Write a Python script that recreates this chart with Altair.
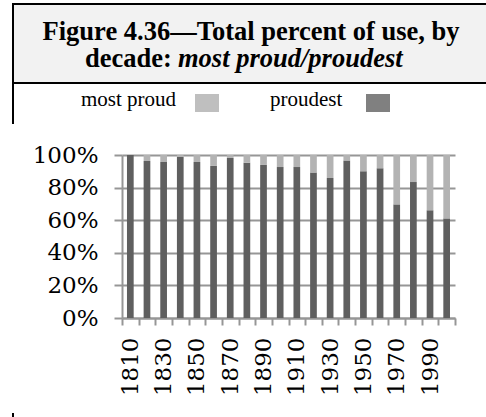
import altair as alt
import pandas as pd

# Decades and share of "proudest" (percent); "most proud" is the remainder
decades = [1810, 1820, 1830, 1840, 1850, 1860, 1870, 1880, 1890, 1900,
           1910, 1920, 1930, 1940, 1950, 1960, 1970, 1980, 1990, 2000]
proudest = [100.0, 96.3, 95.7, 98.8, 95.7, 93.3, 98.2, 95.3, 93.9, 92.6,
            92.6, 89.2, 85.9, 96.7, 90.0, 91.8, 69.7, 83.4, 66.1, 61.1]
most_proud = [round(100 - p, 1) for p in proudest]

series = ["most proud", "proudest"]
bar_colors = ["#b3b3b3", "#5f5f5f"]
swatch_colors = ["#bfbfbf", "#808080"]

title_line1 = "Figure 4.36\u2014Total percent of use, by"
title_line2a = "decade:"
title_line2b = "most proud/proudest"

GRID = "#969696"
SERIF = "Liberation Serif"
AXIS_FONT = "DejaVu Serif"

rows = []
for d, p, m in zip(decades, proudest, most_proud):
    rows.append({"decade": d, "form": "proudest", "pct": p, "stack_order": 0})
    rows.append({"decade": d, "form": "most proud", "pct": m, "stack_order": 1})
df = pd.DataFrame(rows)

one = pd.DataFrame({"k": [0]})

bars = alt.Chart(df).mark_bar(size=6.7).encode(
    x=alt.X(
        "decade:O",
        scale=alt.Scale(paddingInner=0, paddingOuter=0),
        axis=alt.Axis(
            title=None,
            labelAngle=270,
            labelExpr="(+datum.value) % 20 == 10 ? datum.label : ''",
            labelOverlap=False,
            labelFont=AXIS_FONT,
            labelFontSize=23,
            labelColor="#000000",
            labelPadding=12,
            tickBand="extent",
            tickSize=7,
            tickWidth=2,
            tickColor=GRID,
            domainColor=GRID,
            domainWidth=2,
            grid=False,
        ),
    ),
    y=alt.Y(
        "pct:Q",
        stack="normalize",
        scale=alt.Scale(domain=[0, 1]),
        axis=alt.Axis(
            title=None,
            values=[0, 0.2, 0.4, 0.6, 0.8, 1.0],
            format=".0%",
            labelFont=AXIS_FONT,
            labelFontSize=23,
            labelColor="#000000",
            labelPadding=16,
            tickSize=8,
            tickWidth=2,
            tickColor=GRID,
            domainColor=GRID,
            domainWidth=2,
            grid=True,
            gridColor=GRID,
            gridWidth=2,
        ),
    ),
    color=alt.Color(
        "form:N",
        scale=alt.Scale(domain=series, range=bar_colors),
        legend=None,
    ),
    order=alt.Order("stack_order:Q"),
)

# Title panel with grey fill and black frame
frame = alt.Chart(one).mark_rect(
    fill="#f2f2f2", stroke="#000000", strokeWidth=2
).encode(
    x=alt.value(-109), x2=alt.value(372),
    y=alt.value(-151), y2=alt.value(-72),
)

left_rule = alt.Chart(one).mark_rule(color="#000000", strokeWidth=2).encode(
    x=alt.value(-109), y=alt.value(-72), y2=alt.value(-31)
)
bottom_rule = alt.Chart(one).mark_rule(color="#000000", strokeWidth=2).encode(
    x=alt.value(-109), y=alt.value(258), y2=alt.value(262)
)

t1 = alt.Chart(one).mark_text(
    font=SERIF, fontSize=26.5, fontWeight="bold", align="center", baseline="alphabetic"
).encode(x=alt.value(129), y=alt.value(-115), text=alt.value(title_line1))

t2a = alt.Chart(one).mark_text(
    font=SERIF, fontSize=26.5, fontWeight="bold", align="left", baseline="alphabetic"
).encode(x=alt.value(-37), y=alt.value(-88), text=alt.value(title_line2a))

t2b = alt.Chart(one).mark_text(
    font=SERIF, fontSize=26.5, fontWeight="bold", fontStyle="italic",
    align="left", baseline="alphabetic"
).encode(x=alt.value(56), y=alt.value(-88), text=alt.value(title_line2b))

# Legend: label followed by its swatch
leg_df = pd.DataFrame({
    "form": series,
    "label_x": [-41, 148],
    "sw_x": [73, 244],
})
leg_text = alt.Chart(leg_df).mark_text(
    font=SERIF, fontSize=21, align="left", baseline="alphabetic", color="#000000"
).encode(x=alt.X("label_x:Q", scale=None), y=alt.value(-49), text="form:N")

leg_sw = alt.Chart(leg_df).mark_rect().encode(
    x=alt.X("sw_x:Q", scale=None),
    x2=alt.X2("sw_end:Q"),
    y=alt.value(-61), y2=alt.value(-43),
    color=alt.Color("form:N", scale=alt.Scale(domain=series, range=swatch_colors), legend=None),
).transform_calculate(sw_end="datum.sw_x + 24")

chart = alt.layer(
    frame, left_rule, bottom_rule, t1, t2a, t2b, leg_text, leg_sw, bars
).resolve_scale(color="independent").properties(
    width=333,
    height=163,
    padding={"left": 122, "top": 155, "right": 31, "bottom": 99},
    autosize=alt.AutoSizeParams(type="none"),
    background="#ffffff",
).configure_view(stroke=None)

chart.save("out.html", embed_options={"renderer": "svg", "actions": False})
